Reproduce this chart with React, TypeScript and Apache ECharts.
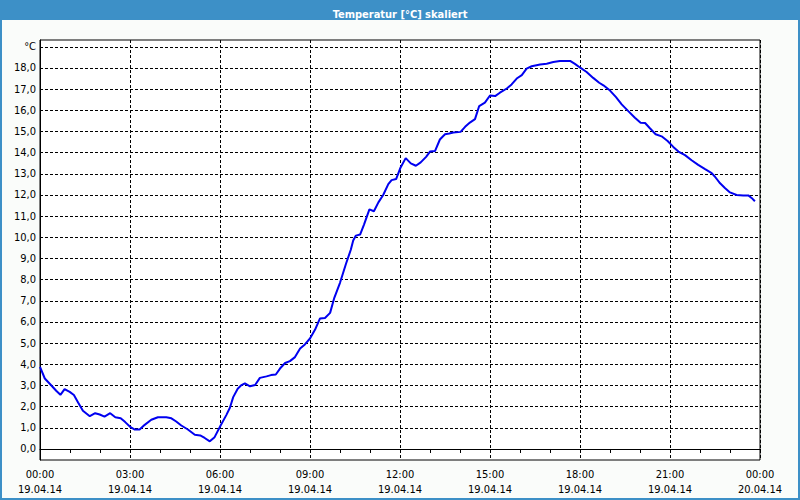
import React, { useEffect, useRef } from "react";
import * as echarts from "echarts";

const hours: number[] = [
  0.0, 0.16, 0.38, 0.54, 0.68, 0.82, 0.99, 1.13, 1.27, 1.43, 1.66, 1.84, 1.99, 2.15, 2.34, 2.51, 2.69, 2.84,
  3.02, 3.16, 3.32, 3.49, 3.71, 3.93, 4.21, 4.38, 4.54, 4.71, 4.93, 5.16, 5.34, 5.49, 5.66, 5.82,
  6.02, 6.21, 6.33, 6.44, 6.59, 6.7, 6.83, 7.0, 7.17, 7.33, 7.55, 7.7, 7.86, 8.0, 8.17, 8.33, 8.5, 8.67, 8.83,
  9.0, 9.17, 9.33, 9.5, 9.67, 9.81, 10.0, 10.2, 10.36, 10.44, 10.53, 10.67, 10.8, 10.98, 11.13, 11.28, 11.44,
  11.61, 11.72, 11.87, 12.02, 12.19, 12.36, 12.53, 12.69, 12.87, 13.0, 13.17, 13.33, 13.5, 13.64, 13.78,
  14.02, 14.17, 14.33, 14.5, 14.64, 14.83, 15.0, 15.17, 15.33, 15.56, 15.72, 15.89, 16.06, 16.22, 16.39,
  16.67, 16.89, 17.11, 17.33, 17.67, 17.83, 18.02, 18.22, 18.44, 18.64, 18.78, 19.0, 19.2, 19.39, 19.61,
  19.83, 20.02, 20.17, 20.33, 20.52, 20.72, 20.92, 21.11, 21.28, 21.5, 21.72, 21.94, 22.17, 22.39, 22.5,
  22.67, 22.83, 23.0, 23.22, 23.44, 23.61, 23.72, 23.83,
];

const temps: number[] = [
  3.88, 3.33, 3.0, 2.75, 2.56, 2.83, 2.7, 2.55, 2.2, 1.81, 1.55, 1.69, 1.63, 1.53, 1.69, 1.5, 1.45, 1.27,
  1.03, 0.92, 0.92, 1.14, 1.38, 1.5, 1.5, 1.45, 1.3, 1.11, 0.92, 0.67, 0.64, 0.52, 0.36, 0.56,
  1.11, 1.6, 1.95, 2.45, 2.85, 3.0, 3.1, 2.96, 3.02, 3.36, 3.43, 3.49, 3.52, 3.8, 4.06, 4.15, 4.34, 4.75, 4.94,
  5.22, 5.64, 6.16, 6.19, 6.43, 7.14, 7.85, 8.75, 9.41, 9.85, 10.08, 10.13, 10.6, 11.32, 11.23, 11.65, 12.0,
  12.51, 12.7, 12.75, 13.3, 13.74, 13.49, 13.38, 13.54, 13.8, 14.05, 14.08, 14.62, 14.87, 14.9, 14.95,
  14.98, 15.22, 15.42, 15.58, 16.2, 16.36, 16.7, 16.67, 16.83, 17.03, 17.22, 17.5, 17.66, 17.97, 18.08,
  18.16, 18.2, 18.28, 18.33, 18.33, 18.19, 18.0, 17.81, 17.53, 17.3, 17.18, 16.93, 16.62, 16.28, 15.96,
  15.65, 15.41, 15.4, 15.15, 14.87, 14.77, 14.55, 14.27, 14.05, 13.88, 13.64, 13.42, 13.22, 13.03, 12.86,
  12.55, 12.33, 12.12, 12.0, 11.98, 11.98, 11.86, 11.7,
];

const titleText = "Temperatur [°C] skaliert";
const unitLabel = "°C";
const dayStart = "19.04.14";
const dayNext = "20.04.14";

const FONT = "'DejaVu Sans Condensed', 'Liberation Sans', sans-serif";
const FRAME = "#3d90c7";

export default function App() {
  const ref = useRef<HTMLDivElement>(null);
  useEffect(() => {
    if (!ref.current) return;
    const chart = echarts.init(ref.current, null, { renderer: "svg" });
    const data = hours.map((h, i) => [h, temps[i]]);
    chart.setOption({
      animation: false,
      backgroundColor: "#fafcfa",
      title: {
        text: titleText,
        left: "center",
        top: 4,
        textStyle: { color: "#fff", fontSize: 11, fontWeight: "bold", fontFamily: FONT },
      },
      graphic: [
        { type: "rect", left: 0, top: 0, shape: { width: 800, height: 20 }, style: { fill: FRAME }, silent: true },
        { type: "rect", left: 0, top: 0, shape: { width: 2, height: 500 }, style: { fill: FRAME }, silent: true },
        { type: "rect", left: 798, top: 0, shape: { width: 2, height: 500 }, style: { fill: FRAME }, silent: true },
        { type: "rect", left: 0, top: 498, shape: { width: 800, height: 2 }, style: { fill: FRAME }, silent: true },
      ],
      grid: {
        left: 40,
        right: 40,
        top: 40,
        bottom: 40,
        show: true,
        backgroundColor: "#ffffff",
        borderColor: "#000",
        borderWidth: 1,
      },
      xAxis: {
        type: "value",
        min: 0,
        max: 24,
        interval: 3,
        axisLine: { show: true, lineStyle: { color: "#000", width: 1 } },
        axisTick: { show: true, length: 4, lineStyle: { color: "#000" } },
        minorTick: { show: true, splitNumber: 3, length: 4, lineStyle: { color: "#000" } },
        splitLine: { show: true, lineStyle: { color: "#000", type: [3, 2], width: 1 } },
        axisLabel: {
          color: "#000",
          fontSize: 11,
          fontFamily: FONT,
          lineHeight: 15,
          margin: 7,
          showMinLabel: true,
          showMaxLabel: true,
          formatter: (v: number) => {
            const h = Math.round(v) % 24;
            const hh = String(h).padStart(2, "0") + ":00";
            return hh + "\n" + (v >= 24 ? dayNext : dayStart);
          },
        },
      },
      yAxis: {
        type: "value",
        min: -0.52,
        max: 19.32,
        minInterval: 1,
        maxInterval: 1,
        splitNumber: 20,
        axisLine: { show: true, lineStyle: { color: "#000", width: 1 } },
        axisTick: { show: false },
        splitLine: {
          show: true,
          showMinLine: false,
          showMaxLine: false,
          lineStyle: { color: "#000", type: [3, 2], width: 1 },
        },
        axisLabel: {
          color: "#000",
          fontSize: 11,
          fontFamily: FONT,
          margin: 4,
          showMinLabel: false,
          showMaxLabel: false,
          formatter: (v: number) => {
            if (Math.abs(v - Math.round(v)) > 1e-6) return "";
            if (Math.round(v) === 19) return unitLabel;
            return Math.abs(v).toFixed(1).replace(".", ",");
          },
        },
      },
      series: [
        {
          type: "line",
          data,
          showSymbol: false,
          symbol: "none",
          lineStyle: { color: "#0000f0", width: 2 },
        },
      ],
    });
    return () => chart.dispose();
  }, []);
  return <div ref={ref} style={{ position: "fixed", left: 0, top: 0, width: 800, height: 500 }} />;
}
